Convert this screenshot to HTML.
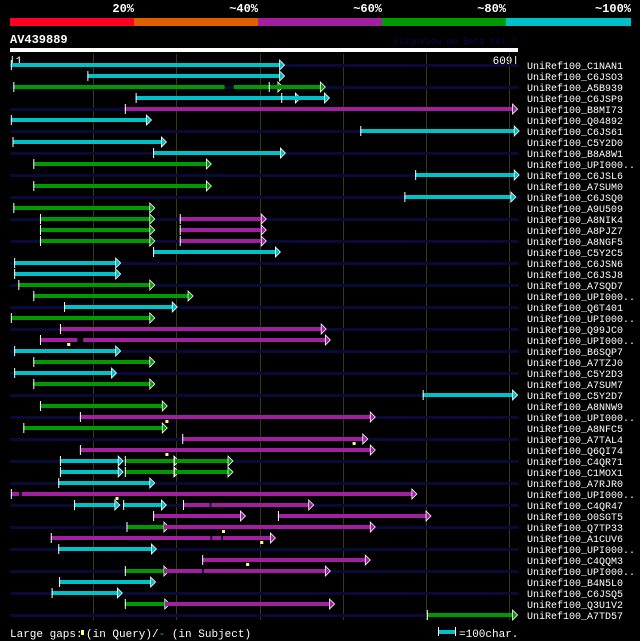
<!DOCTYPE html>
<html><head><meta charset="utf-8"><style>
html,body{margin:0;padding:0;background:#000;}
svg{display:block;}
text{font-family:"Liberation Mono","DejaVu Sans Mono",monospace;}
</style></head><body>
<svg id="chart" width="640" height="641" viewBox="0 0 640 641" xmlns="http://www.w3.org/2000/svg">
<rect width="640" height="641" fill="#000"/>
<g>
<rect x="10" y="18" width="124" height="8" fill="#ff0022"/>
<rect x="134" y="18" width="124" height="8" fill="#e06000"/>
<rect x="258" y="18" width="124" height="8" fill="#a020a0"/>
<rect x="382" y="18" width="124" height="8" fill="#009900"/>
<rect x="506" y="18" width="125" height="8" fill="#00c0c8"/>
<g fill="#fff" font-size="12" font-weight="bold" text-anchor="end">
<text x="134" y="12">20%</text><text x="258" y="12">~40%</text><text x="382" y="12">~60%</text><text x="506" y="12">~80%</text><text x="631" y="12">~100%</text>
</g></g>
<text x="10" y="43" fill="#fff" font-size="12" font-weight="bold">AV439889</text>
<text x="517" y="44" fill="#0a0a50" font-size="9" text-anchor="end">AlignView.pm Beta rel.7</text>
<rect x="10" y="48" width="508" height="4" fill="#fff"/>
<text x="9" y="64" fill="#fff" font-size="11">|1</text>
<text x="519" y="64" fill="#fff" font-size="11" text-anchor="end">609|</text>
<g id="grid"></g><g id="rows"></g>
<g>
<text x="10" y="637" fill="#fff" font-size="11">Large gaps:</text>
<rect x="81" y="630" width="3" height="5" fill="#ffff80"/>
<text x="86" y="637" fill="#fff" font-size="11">(in Query)/<tspan fill="#00c0c8">-</tspan> (in Subject)</text>
<rect x="438" y="627" width="1" height="9" fill="#fff"/>
<rect x="439" y="630" width="16" height="4" fill="#00c0c8"/>
<rect x="455" y="627" width="1" height="9" fill="#fff"/>
<text x="459" y="637" fill="#fff" font-size="11">=100char.</text>
</g>
</svg>
<script>
const queryLength = 609;
const gridTicks = [100,200,300,400,500,600];
const names = ["C1NAN1","C6JSO3","A5B939","C6JSP9","B8MI73","Q04892","C6JS61","C5Y2D0","B8A8W1","UPI000..","C6JSL6","A7SUM0","C6JSQ0","A9U509","A8NIK4","A8PJZ7","A8NGF5","C5Y2C5","C6JSN6","C6JSJ8","A7SQD7","UPI000..","Q6T401","UPI000..","Q99JC0","UPI000..","B6SQP7","A7TZJ0","C5Y2D3","A7SUM7","C5Y2D7","A8NNW9","UPI000..","A8NFC5","A7TAL4","Q6QI74","C4QR71","C1MOX1","A7RJR0","UPI000..","C4QR47","O0SGT5","Q7TP33","A1CUV6","UPI000..","C4QQM3","UPI000..","B4N5L0","C6JSQ5","Q3U1V2","A7TD57"];
const colors = ["#00c0c8","#009900","#a020a0"];
// segments per row: [start, end, colorIdx, tick, arrow]
const segments = [
[[1,324,0,1,1]],
[[93,324,0,1,1]],
[[4,258,1,1,0],[269,322,1,0,1],[311,373,1,1,1]],
[[151,343,0,1,1],[326,378,0,1,1]],
[[138,604,2,1,1]],
[[1,164,0,1,1]],
[[421,606,0,1,1]],
[[3,182,0,1,1]],
[[172,325,0,1,1]],
[[28,236,1,1,1]],
[[487,606,0,1,1]],
[[28,236,1,1,1]],
[[474,602,0,1,1]],
[[4,168,1,1,1]],
[[36,168,1,1,1],[204,302,2,1,1]],
[[36,168,1,1,1],[204,302,2,1,1]],
[[36,168,1,1,1],[204,302,2,1,1]],
[[172,319,0,1,1]],
[[5,127,0,1,1]],
[[5,127,0,1,1]],
[[10,168,1,1,1]],
[[28,214,1,1,1]],
[[65,195,0,1,1]],
[[1,168,1,1,1]],
[[60,374,2,1,1]],
[[36,81,2,1,0],[88,379,2,0,1]],
[[5,127,0,1,1]],
[[28,168,1,1,1]],
[[5,122,0,1,1]],
[[28,168,1,1,1]],
[[496,604,0,1,1]],
[[36,183,1,1,1]],
[[84,433,2,1,1]],
[[16,183,1,1,1]],
[[207,424,2,1,1]],
[[84,433,2,1,1]],
[[60,130,0,1,1],[138,197,1,1,1],[197,262,1,1,1]],
[[60,130,0,1,1],[138,197,1,1,1],[197,262,1,1,1]],
[[58,168,0,1,1]],
[[1,11,2,1,0],[14,483,2,0,1]],
[[77,126,0,1,1],[136,182,0,1,1],[208,240,2,1,0],[242,359,2,0,1]],
[[172,277,2,1,1],[322,500,2,1,1]],
[[140,185,1,1,1],[185,433,2,0,1]],
[[49,241,2,1,0],[243,254,2,0,0],[256,313,2,0,1]],
[[58,170,0,1,1]],
[[231,427,2,1,1]],
[[138,185,1,1,1],[185,231,2,0,0],[233,379,2,0,1]],
[[59,169,0,1,1]],
[[50,129,0,1,1]],
[[138,186,1,1,1],[186,384,2,0,1]],
[[501,604,1,1,1]]
];
// large query gap markers: [row, position]
const markerRows = [25,32,34,35,39,42,43,45];
const markerPos = [70,188,413,188,128,256,302,285];

const NS="http://www.w3.org/2000/svg";
const xs = p => 10 + p*0.832;
const ys = i => 65 + 11*i;
function mk(tag, attrs, parent){const e=document.createElementNS(NS,tag);for(const k in attrs)e.setAttribute(k,attrs[k]);parent.appendChild(e);return e;}
const grid=document.getElementById('grid');
gridTicks.forEach(t=>{
  const l=mk('rect',{x:Math.round(xs(t)),y:54,width:1,height:566,fill:'#3a3a10'},grid);
  
  
});
const rows=document.getElementById('rows');
names.forEach((n,i)=>{
  const y=ys(i);
  const g=mk('g',{},rows);
  
  
  if(i%2===0){ mk('rect',{x:10,y:y-1,width:xs(queryLength)-10+2,height:3,fill:'#0a0a38'},g); }
  segments[i].forEach(s=>{
    const x1=xs(s[0]), x2=xs(s[1]), c=colors[s[2]];
    const b=mk('rect',{x:x1,y:y-2,width:Math.max(1,x2-x1),height:4,fill:c},g);
    
    
    if(s[3]) mk('rect',{x:x1,y:y-5,width:1,height:10,fill:'#fff'},g);
    if(s[4]) mk('polygon',{points:`${x2},${y-5} ${x2+5},${y} ${x2},${y+5}`,fill:c,stroke:'#fff','stroke-width':0.8},g);
  });
  const t=mk('text',{x:527,y:y+4,fill:'#fff','font-size':10},g);
  t.textContent='UniRef100_'+n;
  
  
});
markerRows.forEach((r,k)=>{
  const m=mk('rect',{x:xs(markerPos[k])-1,y:ys(r)+3,width:3,height:3,fill:'#ffff80'},rows);
  
  
});
</script>
</body></html>
